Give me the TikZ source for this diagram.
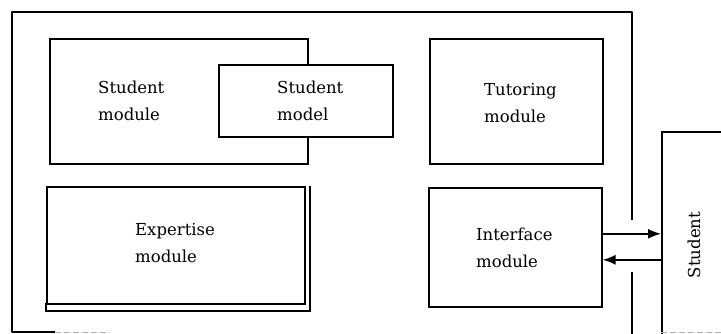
\documentclass[tikz,border=0pt]{standalone}
\usepackage{fontspec}
\setmainfont{DejaVu Serif}
\usetikzlibrary{arrows.meta}
\begin{document}
\begin{tikzpicture}[x=1pt,y=-1pt,
  frame/.style={line width=1.9pt, line join=round},
  box/.style={draw, line width=1.6pt, fill=white, anchor=north west, inner sep=0pt},
  txt/.style={font=\fontsize{16.5}{27}\selectfont, align=left, inner sep=0pt, anchor=base west},
  flow/.style={line width=1.5pt, -{Latex[length=13pt,width=10pt]}},
  faint/.style={line width=1pt, gray!60, dash pattern=on 6pt off 3pt}]
\clip (0,0) rectangle (721,333);
\fill[white] (0,0) rectangle (721,333);
% outer frame
\coordinate (ftl) at (12,12);
\coordinate (ftr) at (632,12);
\coordinate (fbl) at (12,332);
\draw[frame] (632,220) -- (ftr) -- (ftl) -- (fbl) -- (55,332);
\draw[faint] (55,332) -- (110,332);
\draw[frame] (632,272) -- (632,340);
% boxes
\node[box, minimum width=258pt, minimum height=125pt] (smod) at (49,38) {};
\node[box, minimum width=174pt, minimum height=72pt] (smodel) at (218,64) {};
\node[box, minimum width=173pt, minimum height=125pt] (tut) at (429,38) {};
\node[box, minimum width=173pt, minimum height=119pt] (iface) at (428,187) {};
% expertise (double border right and bottom)
\draw[line width=2pt] (46,303) -- (46,311) -- (310,311) -- (310,186);
\node[box, line width=1.9pt, minimum width=258pt, minimum height=117pt] (exp) at (46,186) {};
% student box (cut off by the picture edge)
\node[box, minimum width=100pt, minimum height=215pt] (stud) at (661,131) {};
\draw[faint] (661,332) -- (721,332);
% texts
\node[txt] (smodt) at (98,120) {Student\\module};
\node[txt] (smodelt) at (277,120) {Student\\model};
\node[txt] (tutt) at (484,122) {Tutoring\\module};
\node[txt] (expt) at (135,262) {Expertise\\module};
\node[txt] (ifacet) at (476,267) {Interface\\module};
\node[font=\fontsize{16.5}{20}\selectfont, rotate=90, inner sep=0pt] (studt) at (694,245) {Student};
% connectors
\draw[flow] ([yshift=13.5pt]iface.east) -- ([yshift=13.5pt]iface.east -| stud.west);
\draw[flow] ([yshift=-12.5pt]iface.east -| stud.west) -- ([yshift=-12.5pt]iface.east);
\end{tikzpicture}
\end{document}
